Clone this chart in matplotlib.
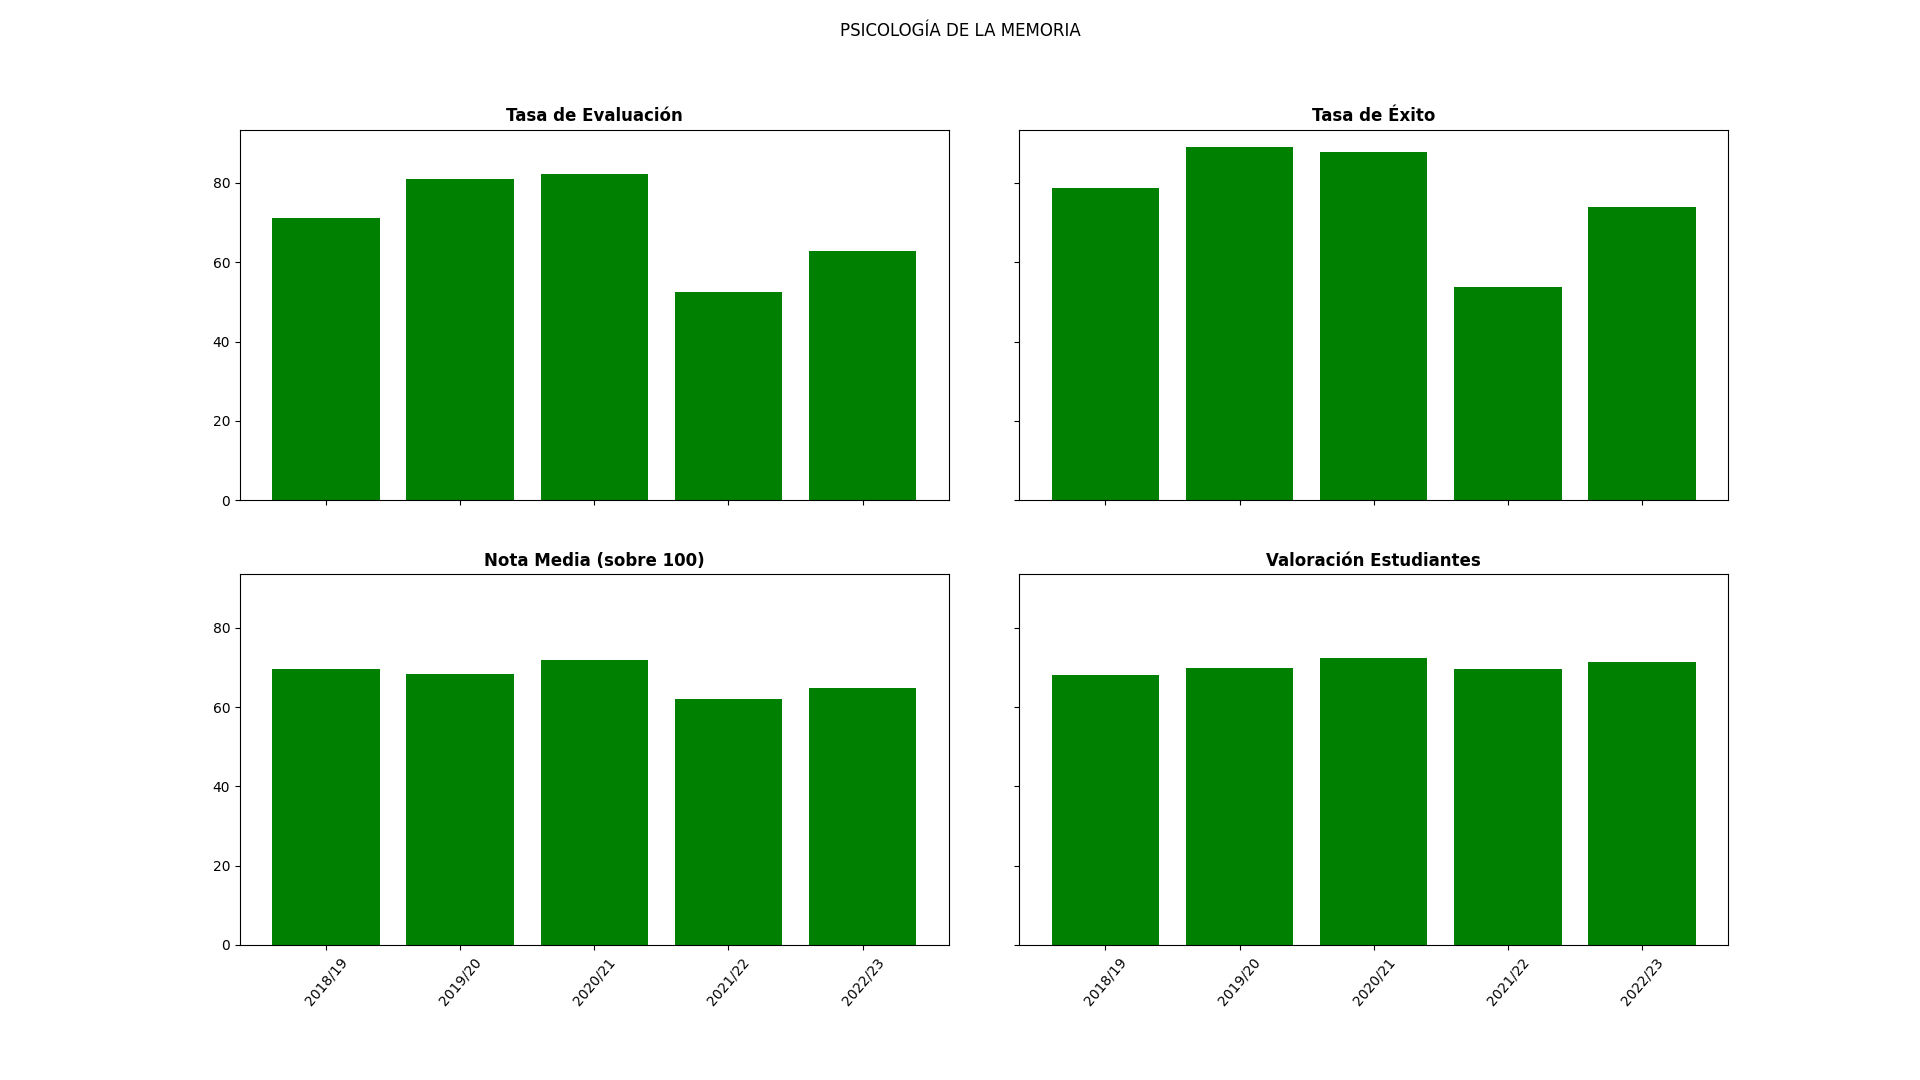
import matplotlib
matplotlib.use("Agg")
import matplotlib.pyplot as plt

years = ["2018/19", "2019/20", "2020/21", "2021/22", "2022/23"]
tasa_evaluacion = [71.2, 81.0, 82.3, 52.5, 62.9]
tasa_exito = [78.8, 89.0, 87.8, 53.8, 74.0]
nota_media = [69.5, 68.3, 71.8, 62.0, 64.8]
valoracion = [68.0, 69.8, 72.3, 69.6, 71.3]

titles = ["Tasa de Evaluación", "Tasa de Éxito", "Nota Media (sobre 100)", "Valoración Estudiantes"]
series = [tasa_evaluacion, tasa_exito, nota_media, valoracion]

fig, axes = plt.subplots(2, 2, figsize=(19.2, 10.8), dpi=100, sharex=True, sharey=True)
fig.subplots_adjust(left=0.125, right=0.9, top=0.88, bottom=0.125, wspace=0.1, hspace=0.2)
fig.suptitle("PSICOLOGÍA DE LA MEMORIA")

for ax, title, vals in zip(axes.flat, titles, series):
    ax.bar(years, vals, color="green")
    ax.set_title(title, fontweight="bold")
    ax.tick_params(axis="x", labelrotation=50)

plt.savefig("out.png", dpi=100)
